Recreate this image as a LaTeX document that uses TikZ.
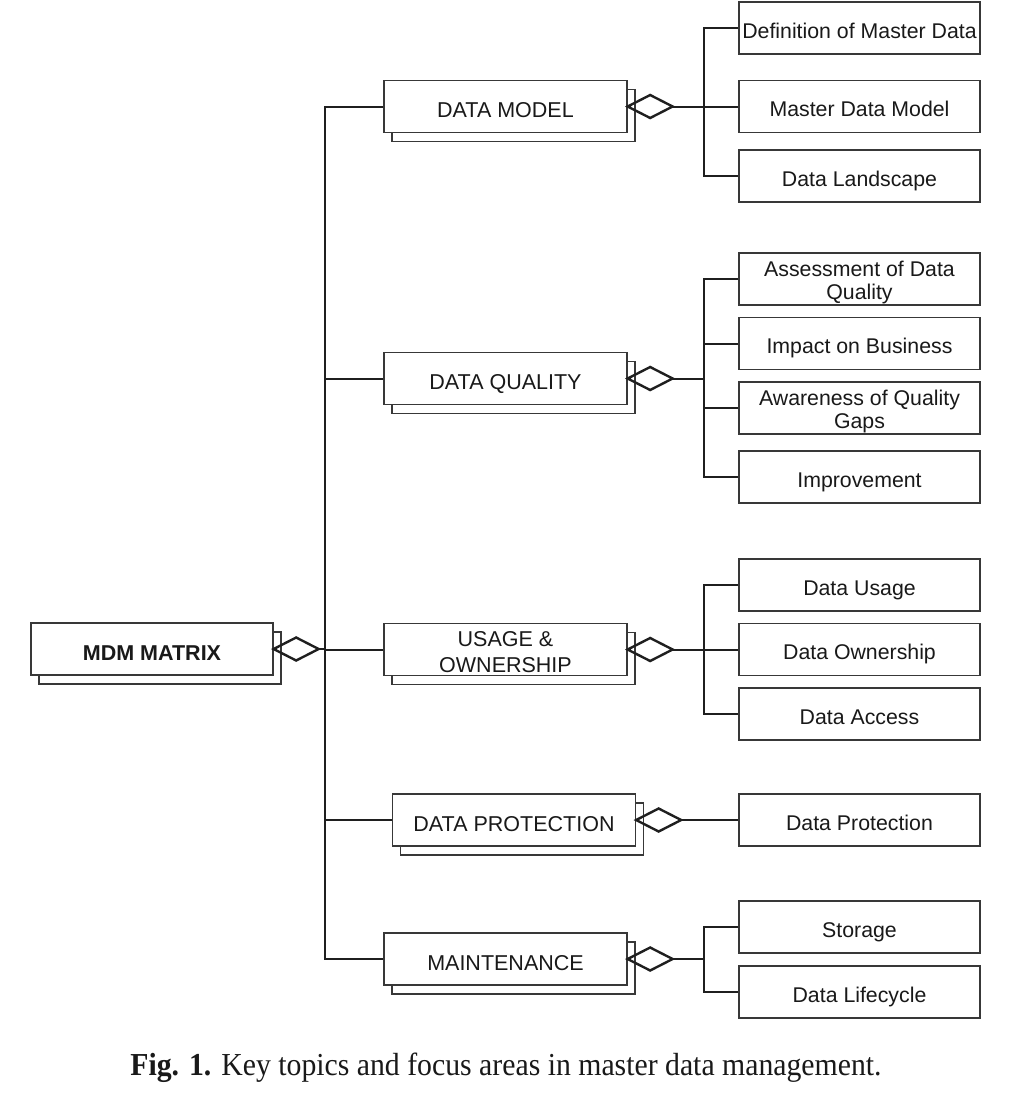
\documentclass[tikz,border=0pt]{standalone}
\usepackage{fontspec}
\setmainfont{Liberation Sans}
\newfontfamily\capfont[FakeStretch=0.93]{Liberation Serif}
\usetikzlibrary{shapes.geometric,shadows}
\newcommand{\firststrut}[1]{\rule{0pt}{#1}}
\begin{document}
\begin{tikzpicture}[x=1pt,y=-1pt,
  boxtext/.style={text=black!90, align=center, inner sep=0pt},
  mainbox/.style={boxtext, font=\fontsize{21.5}{26}\selectfont, draw=black!78, line width=1.3pt, fill=white,
    minimum width=243pt, minimum height=52pt,
    copy shadow={shadow xshift=8pt, shadow yshift=-9pt, opacity=1, draw=black!78, fill=white, line width=1.3pt}},
  childbox/.style={boxtext, font=\fontsize{21.3}{23}\selectfont, draw=black!78, line width=1.3pt, fill=white,
    minimum width=241pt, minimum height=52pt},
  mainone/.style={mainbox, text height=23pt, text depth=1pt},
  childone/.style={childbox, text height=22pt, text depth=2pt},
  agg/.style={diamond, draw=black!88, line width=2.4pt, outer sep=0pt,
    minimum width=45pt, minimum height=23pt, inner sep=0pt, anchor=west},
  conn/.style={draw=black!88, line width=2pt}]
\useasboundingbox (0,0) rectangle (1018,1104);
\fill[white] (0,0) rectangle (1018,1104);

\coordinate (trunk) at (325,0);
\coordinate (bus) at (704,0);

% main boxes
\node[mainone, minimum width=242pt, font=\fontsize{21.5}{26}\selectfont\bfseries] (mdm) at (152,649) {MDM MATRIX};
\node[mainone] (dm) at (505.5,106.5) {DATA MODEL};
\node[mainone] (dq) at (505.5,378.5) {DATA QUALITY};
\node[mainbox] (uo) at (505.5,649.5) {\firststrut{21pt}USAGE \&\\OWNERSHIP};
\node[mainone] (dp) at (514,820) {DATA PROTECTION};
\node[mainone] (mt) at (505.5,959) {MAINTENANCE};

% aggregation diamonds
\node[agg] (mdmd) at (mdm.east) {};
\node[agg] (dmd) at (dm.east) {};
\node[agg] (dqd) at (dq.east) {};
\node[agg] (uod) at (uo.east) {};
\node[agg] (dpd) at (dp.east) {};
\node[agg] (mtd) at (mt.east) {};

% child boxes
\node[childone] (c11) at (859.5,28) {Definition of Master Data};
\node[childone] (c12) at (859.5,106.5) {Master Data Model};
\node[childone] (c13) at (859.5,176) {Data Landscape};

\node[childbox] (c21) at (859.5,279) {\firststrut{22pt}Assessment of Data\\Quality};
\node[childone] (c22) at (859.5,343.5) {Impact on Business};
\node[childbox] (c23) at (859.5,408) {\firststrut{22pt}Awareness of Quality\\Gaps};
\node[childone] (c24) at (859.5,477) {Improvement};

\node[childone] (c31) at (859.5,585) {Data Usage};
\node[childone] (c32) at (859.5,649.5) {Data Ownership};
\node[childone] (c33) at (859.5,714) {Data Access};

\node[childone] (c41) at (859.5,820) {Data Protection};

\node[childone] (c51) at (859.5,927) {Storage};
\node[childone] (c52) at (859.5,992) {Data Lifecycle};

% trunk
\draw[conn] (dm.west) -| (trunk |- mt.west) -- (mt.west);
\draw[conn] (dq.west) -- (dq.west -| trunk);
\draw[conn] (uo.west) -- (uo.west -| trunk);
\draw[conn] (dp.west) -- (dp.west -| trunk);
\draw[conn] (mdmd.east) -- (mdmd.east -| trunk);

% buses
\draw[conn] (c11.west) -| (bus |- c13.west) -- (c13.west);
\draw[conn] (dmd.east) -- (c12.west);

\draw[conn] (c21.west) -| (bus |- c24.west) -- (c24.west);
\draw[conn] (c22.west) -- (c22.west -| bus);
\draw[conn] (c23.west) -- (c23.west -| bus);
\draw[conn] (dqd.east) -- (dqd.east -| bus);

\draw[conn] (c31.west) -| (bus |- c33.west) -- (c33.west);
\draw[conn] (uod.east) -- (c32.west);

\draw[conn] (dpd.east) -- (c41.west);

\draw[conn] (c51.west) -| (bus |- c52.west) -- (c52.west);
\draw[conn] (mtd.east) -- (mtd.east -| bus);

% caption
\node[font=\capfont\fontsize{32}{36}\selectfont, text=black!90, inner sep=0pt] (cap) at (506,1068)
  {\textbf{Fig. 1.} Key topics and focus areas in master data management.};
\end{tikzpicture}
\end{document}
